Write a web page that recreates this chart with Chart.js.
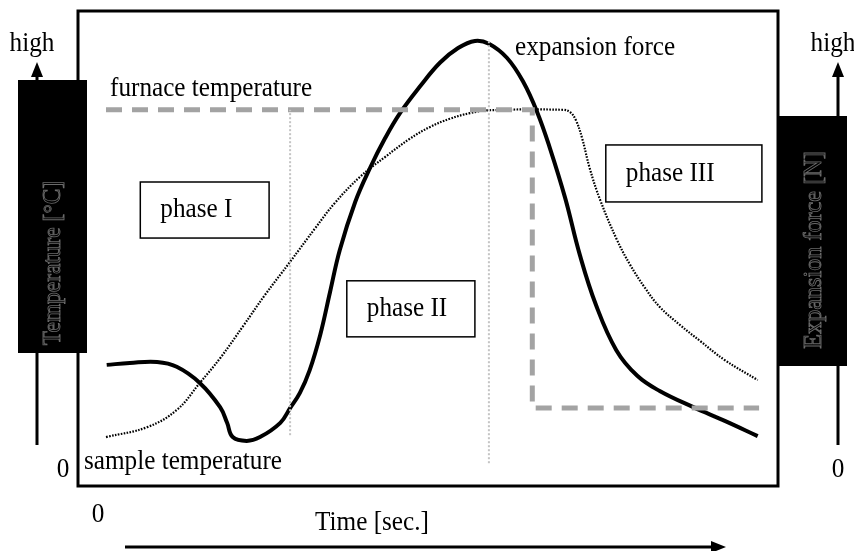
<!DOCTYPE html>
<html>
<head>
<meta charset="utf-8">
<script src="https://cdn.jsdelivr.net/npm/chart.js@4"></script>
<style>
html,body{margin:0;padding:0;background:#fff;}
canvas{display:block;}
</style>
</head>
<body>
<canvas id="c" width="854" height="551"></canvas>
<script>
// Time axis (arbitrary units 0..100) and relative value (0..100)
const forceTime = [4.1,7.4,11.3,14.1,17.4,20.3,21.3,22.1,24.1,26.0,28.9,30.3,31.7,33.1,34.6,36.0,37.4,39.6,41.7,43.9,46.0,48.9,51.7,54.3,56.7,58.7,61.3,63.6,65.6,67.4,69.6,71.7,74.0,76.9,79.9,83.1,87.9,92.4,97.1];
const forceValue = [25.5,25.9,26.1,25.1,21.7,16.6,13.3,10.3,9.5,10.3,13.3,16.4,19.6,24.4,31.8,40.8,49.7,59.8,66.9,73.3,78.5,84.2,89.1,92.2,93.7,93.1,90.1,85.1,78.7,71.2,60.6,48.6,38.1,28.6,23.2,20.0,16.6,13.7,10.5];

const sampleTime = [4.0,9.9,14.1,17.4,20.3,23.7,26.7,30.3,33.9,36.7,40.3,43.9,47.4,50.3,53.1,56.0,58.7,69.3,70.3,71.1,72.0,73.1,74.6,77.0,78.9,81.0,83.1,86.0,88.9,92.4,97.1];
const sampleValue = [10.3,12.4,16.0,21.7,26.9,33.9,40.2,47.2,54.3,59.6,65.1,69.3,73.1,75.6,77.3,78.5,79.1,79.2,78.7,77.1,73.3,66.9,60.2,51.8,46.5,41.7,37.7,33.9,30.5,26.5,22.3];

const furnaceTime = [4.0,64.9,64.9,97.3];
const furnaceValue = [79.2,79.2,16.4,16.4];

// phase boundaries (time) with their vertical extents
const boundaryTime = [30.3,58.7];
const boundaryTop = [79.2,93.9];
const boundaryBottom = [10.7,4.8];

const phaseLabels = ["phase I","phase II","phase III"];
const curveLabels = ["furnace temperature","expansion force","sample temperature"];
const axisTexts = {left:"Temperature [°C]", right:"Expansion force [N]", bottom:"Time [sec.]", high:"high", zero:"0"};

function pts(xs, ys){ return xs.map((x,i)=>({x:x,y:ys[i]})); }

const FONT = "'Liberation Serif','Times New Roman',serif";
const FS = 28, SX = 0.9;

// box positions in data coordinates [x0,x1,yTop,yBottom]
const phaseBoxes = [[8.9,27.3,64.0,52.2],[38.4,56.7,43.2,31.4],[75.4,97.7,71.8,59.8]];

function txt(ctx, s, x, y, align){
  ctx.save();
  ctx.translate(x, y);
  ctx.scale(SX, 1);
  ctx.font = FS + 'px ' + FONT;
  ctx.textAlign = align || 'left';
  ctx.textBaseline = 'middle';
  ctx.fillStyle = '#000';
  ctx.fillText(s, 0, 0);
  ctx.restore();
}

const decor = {
  id:'decor',
  afterDraw(chart){
    const ctx = chart.ctx, a = chart.chartArea;
    const xs = chart.scales.x, ys = chart.scales.y;
    ctx.save();
    // phase boxes
    ctx.strokeStyle = '#000'; ctx.lineWidth = 1.5;
    phaseBoxes.forEach((b,i)=>{
      const x0 = xs.getPixelForValue(b[0]), x1 = xs.getPixelForValue(b[1]);
      const y0 = ys.getPixelForValue(b[2]), y1 = ys.getPixelForValue(b[3]);
      ctx.fillStyle = '#fff';
      ctx.fillRect(x0,y0,x1-x0,y1-y0);
      ctx.strokeRect(x0,y0,x1-x0,y1-y0);
      txt(ctx, phaseLabels[i], x0 + 20, (y0+y1)/2);
    });
    // frame
    ctx.lineWidth = 3; ctx.strokeStyle = '#000';
    ctx.strokeRect(a.left, a.top, a.right-a.left, a.bottom-a.top);

    // curve labels
    txt(ctx, curveLabels[0], 110, 89);
    txt(ctx, curveLabels[1], 515, 48);
    txt(ctx, curveLabels[2], 84, 462);

    // arrows
    function vArrow(x, yb, yt){
      ctx.strokeStyle='#000'; ctx.fillStyle='#000'; ctx.lineWidth=3;
      ctx.beginPath(); ctx.moveTo(x,yb); ctx.lineTo(x,yt+12); ctx.stroke();
      ctx.beginPath(); ctx.moveTo(x,yt); ctx.lineTo(x-6,yt+15); ctx.lineTo(x+6,yt+15); ctx.closePath(); ctx.fill();
    }
    vArrow(37,445,62);
    vArrow(838,445,62);
    ctx.beginPath(); ctx.lineWidth=3; ctx.moveTo(125,547); ctx.lineTo(712,547); ctx.stroke();
    ctx.beginPath(); ctx.moveTo(726,547); ctx.lineTo(711,541); ctx.lineTo(711,553); ctx.closePath(); ctx.fill();

    // black label boxes
    ctx.fillStyle='#000';
    ctx.fillRect(18,80,69,273);
    ctx.fillRect(777,116,70,250);
    ctx.font = '26px ' + FONT;
    ctx.strokeStyle = '#6a6a6a'; ctx.lineWidth = 0.9;
    ctx.textAlign='center'; ctx.textBaseline='middle';
    ctx.save(); ctx.translate(53,263); ctx.rotate(-Math.PI/2); ctx.scale(0.9,1); ctx.strokeText(axisTexts.left,0,0); ctx.restore();
    ctx.save(); ctx.translate(814,250); ctx.rotate(-Math.PI/2); ctx.scale(0.93,1); ctx.strokeText(axisTexts.right,0,0); ctx.restore();

    // other texts
    txt(ctx, axisTexts.high, 32, 44, 'center');
    txt(ctx, axisTexts.high, 833, 44, 'center');
    txt(ctx, axisTexts.zero, 63, 470, 'center');
    txt(ctx, axisTexts.zero, 838, 470, 'center');
    txt(ctx, axisTexts.zero, 98, 515, 'center');
    txt(ctx, axisTexts.bottom, 372, 523, 'center');
    ctx.restore();
  }
};

const boundarySets = boundaryTime.map((t,i)=>({
  data:[{x:t,y:boundaryBottom[i]},{x:t,y:boundaryTop[i]}],
  borderColor:'#c4c4c4', borderWidth:2, borderDash:[2,2], pointRadius:0, tension:0
}));

new Chart(document.getElementById('c'), {
  type:'line',
  data:{
    datasets:[
      ...boundarySets,
      {label:curveLabels[0], data:pts(furnaceTime,furnaceValue), borderColor:'#a3a3a3', borderWidth:5, borderDash:[16,10], pointRadius:0, tension:0, borderJoinStyle:'miter'},
      {label:curveLabels[2], data:pts(sampleTime,sampleValue), borderColor:'#000', borderWidth:2.2, borderDash:[1.6,1.4], pointRadius:0, tension:0.4},
      {label:curveLabels[1], data:pts(forceTime,forceValue), borderColor:'#000', borderWidth:4, pointRadius:0, tension:0.4}
    ]
  },
  options:{
    responsive:false, animation:false, devicePixelRatio:1,
    layout:{padding:{left:78,right:76,top:11,bottom:65}},
    plugins:{legend:{display:false}, tooltip:{enabled:false}},
    scales:{
      x:{type:'linear', min:0, max:100, display:false},
      y:{type:'linear', min:0, max:100, display:false}
    }
  },
  plugins:[decor]
});
</script>
</body>
</html>
